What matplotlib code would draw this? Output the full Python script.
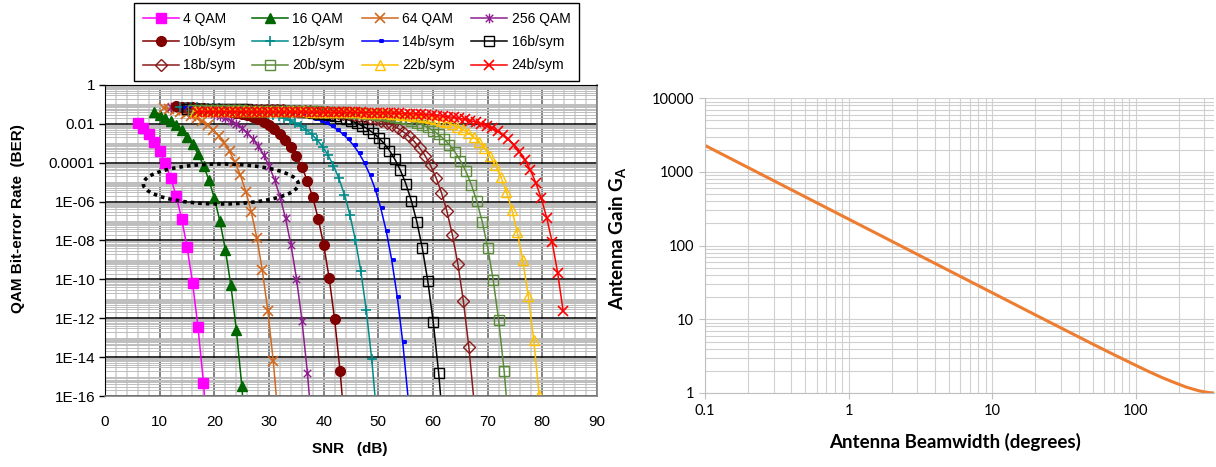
import numpy as np
import matplotlib
matplotlib.use("Agg")
import matplotlib.pyplot as plt
from matplotlib.ticker import FixedLocator, LogLocator, MultipleLocator, NullFormatter
from matplotlib.patches import Ellipse
from matplotlib.path import Path

plt.rcParams['font.family'] = ['Liberation Sans', 'DejaVu Sans']
plt.rcParams['mathtext.fontset'] = 'custom'
plt.rcParams['mathtext.rm'] = 'Lato:bold'
plt.rcParams['mathtext.it'] = 'Lato:bold'
plt.rcParams['mathtext.bf'] = 'Lato:bold'

# ---------------- QAM bit-error-rate curves (1 dB steps in Eb/N0) ----------------
series_names = ["4 QAM", "16 QAM", "64 QAM", "256 QAM",
                "10b/sym", "12b/sym", "14b/sym", "16b/sym",
                "18b/sym", "20b/sym", "22b/sym", "24b/sym"]

# SNR (dB) of the first point of each series; points follow every 1 dB
first_snr_db = [6.01, 9.02, 10.78, 12.03, 13.00, 13.79, 14.46, 15.04, 15.55, 16.01, 16.42, 16.80]

ber_4qam = [1.15e-2, 6.28e-3, 3.00e-3, 1.21e-3, 3.88e-4, 9.65e-5, 1.71e-5, 1.98e-6,
            1.34e-7, 4.65e-9, 6.9e-11, 3.5e-13, 4.8e-16, 1.2e-19]
ber_16qam = [3.89e-2, 2.95e-2, 2.11e-2, 1.41e-2, 8.58e-3, 4.68e-3, 2.23e-3, 8.96e-4,
             2.88e-4, 7.14e-5, 1.26e-5, 1.46e-6, 9.81e-8, 3.38e-9, 5.0e-11, 2.56e-13,
             3.43e-16, 8.5e-20]
ber_64qam = [6.57e-2, 5.80e-2, 4.99e-2, 4.18e-2, 3.37e-2, 2.62e-2, 1.92e-2, 1.33e-2,
             8.43e-3, 4.86e-3, 2.47e-3, 1.08e-3, 3.85e-4, 1.08e-4, 2.25e-5, 3.18e-6,
             2.77e-7, 1.32e-8, 2.92e-10, 2.49e-12, 6.36e-15, 3.5e-18]
ber_256qam = [7.80e-2, 7.35e-2, 6.86e-2, 6.34e-2, 5.77e-2, 5.17e-2, 4.54e-2, 3.90e-2,
              3.24e-2, 2.61e-2, 2.00e-2, 1.45e-2, 9.89e-3, 6.19e-3, 3.50e-3, 1.73e-3,
              7.32e-4, 2.50e-4, 6.74e-5, 1.31e-5, 1.72e-6, 1.36e-7, 5.72e-9, 1.09e-10,
              7.63e-13, 1.52e-15, 6.2e-19]
ber_10b = [7.84e-2, 7.62e-2, 7.37e-2, 7.10e-2, 6.80e-2, 6.47e-2, 6.10e-2, 5.70e-2,
           5.27e-2, 4.80e-2, 4.31e-2, 3.79e-2, 3.26e-2, 2.72e-2, 2.18e-2, 1.68e-2,
           1.23e-2, 8.41e-3, 5.29e-3, 3.01e-3, 1.51e-3, 6.44e-4, 2.23e-4, 6.12e-5,
           1.22e-5, 1.65e-6, 1.35e-7, 5.94e-9, 1.20e-10, 9.02e-13, 1.97e-15, 9.0e-19]
ber_12b = [7.34e-2, 7.23e-2, 7.12e-2, 6.99e-2, 6.84e-2, 6.68e-2, 6.49e-2, 6.29e-2,
           6.07e-2, 5.82e-2, 5.54e-2, 5.24e-2, 4.91e-2, 4.55e-2, 4.16e-2, 3.75e-2,
           3.31e-2, 2.86e-2, 2.41e-2, 1.95e-2, 1.52e-2, 1.13e-2, 7.83e-3, 5.03e-3,
           2.94e-3, 1.52e-3, 6.75e-4, 2.47e-4, 7.18e-5, 1.55e-5, 2.31e-6, 2.15e-7,
           1.11e-8, 2.71e-10, 2.62e-12, 7.82e-15, 5.3e-18]
ber_14b = [6.68e-2, 6.63e-2, 6.58e-2, 6.52e-2, 6.45e-2, 6.37e-2, 6.28e-2, 6.19e-2,
           6.08e-2, 5.96e-2, 5.82e-2, 5.67e-2, 5.50e-2, 5.31e-2, 5.11e-2, 4.87e-2,
           4.62e-2, 4.34e-2, 4.04e-2, 3.72e-2, 3.37e-2, 2.99e-2, 2.61e-2, 2.22e-2,
           1.82e-2, 1.44e-2, 1.09e-2, 7.75e-3, 5.13e-3, 3.10e-3, 1.68e-3, 7.90e-4,
           3.12e-4, 9.85e-5, 2.38e-5, 4.08e-6, 4.53e-7, 2.92e-8, 9.46e-10, 1.30e-11,
           6.03e-14, 7.2e-17, 1.5e-20]
ber_16b = [6.04e-2, 6.01e-2, 5.99e-2, 5.96e-2, 5.92e-2, 5.89e-2, 5.85e-2, 5.80e-2,
           5.75e-2, 5.69e-2, 5.63e-2, 5.55e-2, 5.47e-2, 5.38e-2, 5.28e-2, 5.17e-2,
           5.04e-2, 4.90e-2, 4.74e-2, 4.57e-2, 4.37e-2, 4.16e-2, 3.92e-2, 3.67e-2,
           3.39e-2, 3.09e-2, 2.78e-2, 2.44e-2, 2.10e-2, 1.754e-2, 1.411e-2, 1.088e-2,
           7.97e-3, 5.46e-3, 3.44e-3, 1.96e-3, 9.87e-4, 4.24e-4, 1.48e-4, 4.07e-5,
           8.2e-6, 1.11e-6, 9.26e-8, 4.15e-9, 8.53e-11, 6.61e-13, 1.49e-15, 7.1e-19]
ber_18b = [5.45e-2, 5.44e-2, 5.43e-2, 5.42e-2, 5.40e-2, 5.38e-2, 5.36e-2, 5.34e-2,
           5.32e-2, 5.29e-2, 5.26e-2, 5.23e-2, 5.19e-2, 5.14e-2, 5.10e-2, 5.04e-2,
           4.98e-2, 4.91e-2, 4.83e-2, 4.75e-2, 4.65e-2, 4.55e-2, 4.43e-2, 4.29e-2,
           4.15e-2, 3.98e-2, 3.80e-2, 3.60e-2, 3.38e-2, 3.15e-2, 2.89e-2, 2.62e-2,
           2.325e-2, 2.023e-2, 1.719e-2, 1.409e-2, 1.113e-2, 8.38e-3, 5.95e-3, 3.92e-3,
           2.361e-3, 1.269e-3, 5.93e-4, 2.32e-4, 7.23e-5, 1.72e-5, 2.89e-6, 3.13e-7,
           1.95e-8, 6.12e-10, 7.98e-12, 3.48e-14, 3.83e-17, 7.4e-21]
ber_20b = [4.95e-2, 4.95e-2, 4.94e-2, 4.93e-2, 4.93e-2, 4.92e-2, 4.91e-2, 4.90e-2,
           4.89e-2, 4.88e-2, 4.86e-2, 4.84e-2, 4.83e-2, 4.81e-2, 4.78e-2, 4.76e-2,
           4.73e-2, 4.69e-2, 4.66e-2, 4.62e-2, 4.57e-2, 4.52e-2, 4.46e-2, 4.40e-2,
           4.32e-2, 4.24e-2, 4.15e-2, 4.05e-2, 3.94e-2, 3.81e-2, 3.68e-2, 3.52e-2,
           3.35e-2, 3.16e-2, 2.96e-2, 2.74e-2, 2.50e-2, 2.247e-2, 1.981e-2, 1.705e-2,
           1.429e-2, 1.152e-2, 8.91e-3, 6.55e-3, 4.52e-3, 2.867e-3, 1.647e-3, 8.37e-4,
           3.64e-4, 1.29e-4, 3.63e-5, 7.48e-6, 1.05e-6, 9.09e-8, 4.28e-9, 9.37e-11,
           7.82e-13, 1.96e-15, 1.06e-18]
ber_22b = [4.52e-2, 4.52e-2, 4.52e-2, 4.51e-2, 4.51e-2, 4.51e-2, 4.50e-2, 4.50e-2,
           4.49e-2, 4.49e-2, 4.48e-2, 4.47e-2, 4.46e-2, 4.45e-2, 4.44e-2, 4.43e-2,
           4.42e-2, 4.40e-2, 4.38e-2, 4.36e-2, 4.34e-2, 4.32e-2, 4.29e-2, 4.26e-2,
           4.22e-2, 4.18e-2, 4.14e-2, 4.09e-2, 4.03e-2, 3.97e-2, 3.90e-2, 3.83e-2,
           3.74e-2, 3.64e-2, 3.54e-2, 3.42e-2, 3.29e-2, 3.14e-2, 2.98e-2, 2.80e-2,
           2.61e-2, 2.41e-2, 2.18e-2, 1.946e-2, 1.700e-2, 1.450e-2, 1.197e-2, 9.52e-3,
           7.24e-3, 5.19e-3, 3.47e-3, 2.125e-3, 1.166e-3, 5.60e-4, 2.27e-4, 7.34e-5,
           1.84e-5, 3.30e-6, 3.88e-7, 2.69e-8, 9.54e-10, 1.47e-11, 7.86e-14, 1.12e-16,
           3.0e-20]
ber_24b = [4.156e-2, 4.155e-2, 4.153e-2, 4.152e-2, 4.150e-2, 4.148e-2, 4.146e-2, 4.144e-2,
           4.141e-2, 4.138e-2, 4.135e-2, 4.131e-2, 4.127e-2, 4.122e-2, 4.117e-2, 4.111e-2,
           4.104e-2, 4.097e-2, 4.088e-2, 4.079e-2, 4.068e-2, 4.056e-2, 4.043e-2, 4.028e-2,
           4.011e-2, 3.992e-2, 3.971e-2, 3.948e-2, 3.921e-2, 3.891e-2, 3.858e-2, 3.820e-2,
           3.779e-2, 3.732e-2, 3.680e-2, 3.621e-2, 3.555e-2, 3.482e-2, 3.400e-2, 3.308e-2,
           3.207e-2, 3.094e-2, 2.969e-2, 2.830e-2, 2.678e-2, 2.512e-2, 2.331e-2, 2.136e-2,
           1.928e-2, 1.708e-2, 1.480e-2, 1.249e-2, 1.016e-2, 7.96e-3, 5.93e-3, 4.157e-3,
           2.697e-3, 1.594e-3, 8.37e-4, 3.79e-4, 1.43e-4, 4.25e-5, 9.54e-6, 1.49e-6,
           1.47e-7, 8.15e-9, 2.20e-10, 2.39e-12]

ber_series = [ber_4qam, ber_16qam, ber_64qam, ber_256qam, ber_10b, ber_12b,
              ber_14b, ber_16b, ber_18b, ber_20b, ber_22b, ber_24b]

y_tick_values = [1e0, 1e-2, 1e-4, 1e-6, 1e-8, 1e-10, 1e-12, 1e-14, 1e-16]
y_tick_labels = ["1", "0.01", "0.0001", "1E-06", "1E-08", "1E-10", "1E-12", "1E-14", "1E-16"]

# ---------------- antenna gain vs. beamwidth ----------------
beamwidth_deg = [0.1, 0.2, 0.5, 1, 2, 5, 10, 20, 50, 70, 100, 120, 150, 175,
                 200, 225, 250, 275, 300, 325, 340, 350]
antenna_gain = [2292, 1146, 458.4, 229.2, 114.6, 45.84, 22.93, 11.47, 4.62, 3.33,
                2.37, 2.00, 1.64, 1.45, 1.31, 1.20, 1.13, 1.07, 1.035, 1.012,
                1.004, 1.001]

# ---------------- marker shapes ----------------
asterisk = Path([(-1, -1), (1, 1), (-1, 1), (1, -1), (0, -1.3), (0, 1.3)],
                [Path.MOVETO, Path.LINETO, Path.MOVETO, Path.LINETO, Path.MOVETO, Path.LINETO])
side_bar = Path([(0, -0.35), (1, -0.35), (1, 0.35), (0, 0.35), (0, -0.35)],
                [Path.MOVETO, Path.LINETO, Path.LINETO, Path.LINETO, Path.CLOSEPOLY])

styles = [
    dict(color='#FF00FF', marker='s', ms=6.5),
    dict(color='#006600', marker='^', ms=7),
    dict(color='#D2691E', marker='x', ms=6.5, mew=1.2),
    dict(color='#8E1F8E', marker=asterisk, ms=7, mew=1.0),
    dict(color='#800000', marker='o', ms=7),
    dict(color='#008B8B', marker='+', ms=7, mew=1.2),
    dict(color='#0000FF', marker=side_bar, ms=5, mfc='none', mew=1.4),
    dict(color='#000000', marker='s', ms=7.5, mfc='none', mew=1.0),
    dict(color='#8B1A1A', marker='D', ms=6, mfc='none', mew=1.0),
    dict(color='#5B8C3A', marker='s', ms=7.5, mfc='none', mew=1.0),
    dict(color='#FFC000', marker='^', ms=7.5, mfc='none', mew=1.0),
    dict(color='#FF0000', marker='x', ms=7, mew=1.2),
]

W, H = 1216, 467
fig = plt.figure(figsize=(W / 100, H / 100), dpi=100)

# ================= left panel =================
ax = fig.add_axes([105 / W, 1 - 396 / H, 492 / W, 311 / H])
handles = []
for name, ber, snr0, st in zip(series_names, ber_series, first_snr_db, styles):
    snr = snr0 + np.arange(len(ber))
    h, = ax.plot(snr, ber, lw=1.1, label=name, **st)
    handles.append(h)

ax.set_xlim(0, 90)
ax.set_yscale('log')
ax.set_ylim(1e-16, 1)
ax.xaxis.set_major_locator(MultipleLocator(10))
ax.xaxis.set_minor_locator(MultipleLocator(2))
ax.yaxis.set_major_locator(FixedLocator(y_tick_values))
ax.set_yticklabels(y_tick_labels)
ax.yaxis.set_minor_locator(LogLocator(base=10, subs=np.arange(1, 10), numticks=200))
ax.yaxis.set_minor_formatter(NullFormatter())

ax.set_axisbelow(True)
ax.grid(which='minor', axis='x', color='#d2d2d2', lw=1.2)
ax.grid(which='minor', axis='y', color='#bdbdbd', lw=0.7)
ax.grid(which='major', axis='x', color='#6e6e6e', lw=1.2)
ax.grid(which='major', axis='y', color='#000000', lw=1.1)

ax.tick_params(axis='y', which='major', length=4, width=1, color='black',
               labelsize=11, pad=3)
ax.tick_params(axis='x', which='major', length=0, labelsize=11, pad=14)
ax.tick_params(which='minor', length=0)
for side in ['right', 'bottom']:
    ax.spines[side].set_color('#808080')
    ax.spines[side].set_linewidth(1.2)
ax.spines['left'].set_color('black')
ax.spines['top'].set_color('black')

# highlighted region of interest
ax.add_patch(Ellipse((0.2354, 0.6817), 0.315, 0.1286, transform=ax.transAxes,
                     fill=False, ec='black', lw=2.6, ls=(0, (1, 1.1)), zorder=6))

fig.text(18 / W, 1 - 219 / H, 'QAM Bit-error Rate  (BER)', rotation=90,
         ha='center', va='center', fontsize=11, fontweight='bold')
fig.text(350 / W, 1 - 449 / H, 'SNR   (dB)', ha='center', va='center',
         fontsize=11, fontweight='bold')

order = [0, 4, 8, 1, 5, 9, 2, 6, 10, 3, 7, 11]
leg = fig.legend([handles[i] for i in order], [series_names[i] for i in order],
                 ncol=4, loc='upper center', bbox_to_anchor=(356.5 / W, 1 - 3 / H),
                 borderaxespad=0, frameon=True, fancybox=False, edgecolor='black',
                 framealpha=1, fontsize=10, handlelength=2.6, handletextpad=0.3,
                 columnspacing=1.2, labelspacing=0.68, borderpad=0.62)
leg.get_frame().set_linewidth(1.0)

# ================= right panel =================
ax2 = fig.add_axes([705 / W, 1 - 393 / H, 509 / W, 294.7 / H])
ax2.plot(beamwidth_deg, antenna_gain, color='#ED7D31', lw=2.2, solid_capstyle='round')
ax2.set_xscale('log')
ax2.set_yscale('log')
ax2.set_xlim(0.1, 350)
ax2.set_ylim(1, 10000)
ax2.set_xticks([0.1, 1, 10, 100], ["0.1", "1", "10", "100"])
ax2.set_yticks([1, 10, 100, 1000, 10000], ["1", "10", "100", "1000", "10000"])
ax2.xaxis.set_minor_locator(LogLocator(base=10, subs=np.arange(2, 10), numticks=50))
ax2.yaxis.set_minor_locator(LogLocator(base=10, subs=np.arange(2, 10), numticks=50))
ax2.xaxis.set_minor_formatter(NullFormatter())
ax2.yaxis.set_minor_formatter(NullFormatter())
ax2.set_axisbelow(True)
ax2.grid(which='both', color='#d0d0d0', lw=0.8)
ax2.tick_params(which='major', length=4, color='#bfbfbf', labelsize=10.5,
                labelfontfamily='Lato', pad=4)
ax2.tick_params(which='minor', length=0)
for side in ['top', 'right']:
    ax2.spines[side].set_visible(False)
for side in ['left', 'bottom']:
    ax2.spines[side].set_color('#bfbfbf')

fig.text(955 / W, 1 - 442 / H, 'Antenna Beamwidth (degrees)', ha='center', va='center',
         fontsize=13.5, fontweight='bold', family='Lato')
fig.text(618 / W, 1 - 238 / H, r'Antenna Gain $\mathrm{G_A}$', rotation=90,
         ha='center', va='center', fontsize=13.5, fontweight='bold', family='Lato')

fig.savefig('out.png', dpi=100, facecolor='white')
